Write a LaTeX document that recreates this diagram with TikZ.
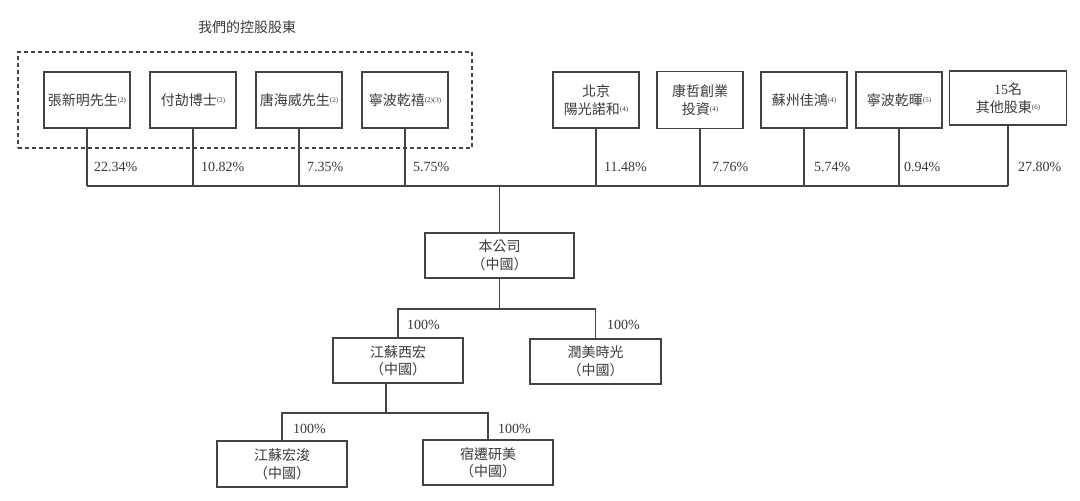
\documentclass[tikz,border=0pt]{standalone}
\usepackage{fontspec}
\setmainfont{Liberation Serif}
\newfontfamily\cjk{Noto Sans CJK TC}
\definecolor{linec}{HTML}{444444}
\definecolor{txt}{HTML}{3A3A3A}
\newcommand{\fnote}[1]{\raisebox{0.35ex}{\fontsize{7}{7}\selectfont\rmfamily(#1)}}
\begin{document}
\begin{tikzpicture}[x=1pt,y=-1pt,
  box/.style={draw=linec, line width=1.2pt, inner sep=0pt, align=center, text=txt,
    font=\cjk\fontsize{14}{17.5}\selectfont},
  pct/.style={anchor=west, inner sep=0pt, text=txt, font=\fontsize{14}{14}\selectfont},
  conn/.style={draw=linec, line width=1.2pt},
  grp/.style={draw=linec, line width=1.1pt, dash pattern=on 4pt off 3pt}
]
\useasboundingbox[fill=white] (0,0) rectangle (1080,501);

% title and group
\node[text=txt, font=\cjk\fontsize{14}{14}\selectfont, inner sep=0pt] (title) at (247,27) {我們的控股股東};
\node[grp, minimum width=454pt, minimum height=96pt, inner sep=0pt] (group) at (245,100) {};

% top shareholders
\node[box, minimum width=86pt, minimum height=56pt] (a1) at (87,100) {張新明先生\fnote{2}};
\node[box, minimum width=86pt, minimum height=56pt] (a2) at (193,100) {付劼博士\fnote{2}};
\node[box, minimum width=86pt, minimum height=56pt] (a3) at (299,100) {唐海威先生\fnote{2}};
\node[box, minimum width=86pt, minimum height=56pt] (a4) at (405,100) {寧波乾禧\fnote{2}\fnote{3}};
\node[box, minimum width=86pt, minimum height=56pt] (b1) at (596,100) {北京\\陽光諾和\fnote{4}};
\node[box, minimum width=86pt, minimum height=57pt] (b2) at (700,100) {康哲創業\\投資\fnote{4}};
\node[box, minimum width=86pt, minimum height=56pt] (b3) at (804,100) {蘇州佳鴻\fnote{4}};
\node[box, minimum width=86pt, minimum height=56pt] (b4) at (899,100) {寧波乾暉\fnote{5}};
\node[box, minimum width=117pt, minimum height=54pt] (b5) at (1008,98) {{\rmfamily 15}名\\其他股東\fnote{6}};

% company and subsidiaries
\node[box, minimum width=149pt, minimum height=45pt] (co) at (499.5,255.5) {本公司\\（中國）};
\node[box, minimum width=130pt, minimum height=45pt] (x1) at (398,360.5) {江蘇西宏\\（中國）};
\node[box, minimum width=131pt, minimum height=45pt] (r1) at (595.5,361.5) {潤美時光\\（中國）};
\node[box, minimum width=130pt, minimum height=46pt] (y1) at (282,464) {江蘇宏浚\\（中國）};
\node[box, minimum width=130pt, minimum height=45pt] (y2) at (488,462.5) {宿遷研美\\（中國）};

% bus lines
\coordinate (busL) at (87,186);
\coordinate (busR) at (1008,186);
\coordinate (bus2) at (398,309);
\coordinate (bus3) at (386,413);

\draw[conn] (busL) -- (busR);
\foreach \n in {a1,a2,a3,a4,b1,b2,b3,b4,b5}
  \draw[conn] (\n.south) -- (\n.south |- busL);
\draw[conn] (co.north) -- (co.north |- busL);

\draw[conn] (co.south) -- (co.south |- bus2);
\draw[conn] (x1.north) -- (x1.north |- bus2) -- (r1.north |- bus2) -- (r1.north);
\draw[conn] ([xshift=-12pt]x1.south) -- (bus3);
\draw[conn] (y1.north) -- (y1.north |- bus3) -- (y2.north |- bus3) -- (y2.north);

% percentages
\node[pct] (p1) at (94,167) {22.34\%};
\node[pct] (p2) at (201,167) {10.82\%};
\node[pct] (p3) at (307,167) {7.35\%};
\node[pct] (p4) at (413,167) {5.75\%};
\node[pct] (p5) at (604,167) {11.48\%};
\node[pct] (p6) at (712,167) {7.76\%};
\node[pct] (p7) at (814,167) {5.74\%};
\node[pct] (p8) at (904,167) {0.94\%};
\node[pct] (p9) at (1018,167) {27.80\%};

\node[pct] (q1) at (407,325) {100\%};
\node[pct] (q2) at (607,325) {100\%};
\node[pct] (q3) at (293,429) {100\%};
\node[pct] (q4) at (498,429) {100\%};
\end{tikzpicture}
\end{document}
